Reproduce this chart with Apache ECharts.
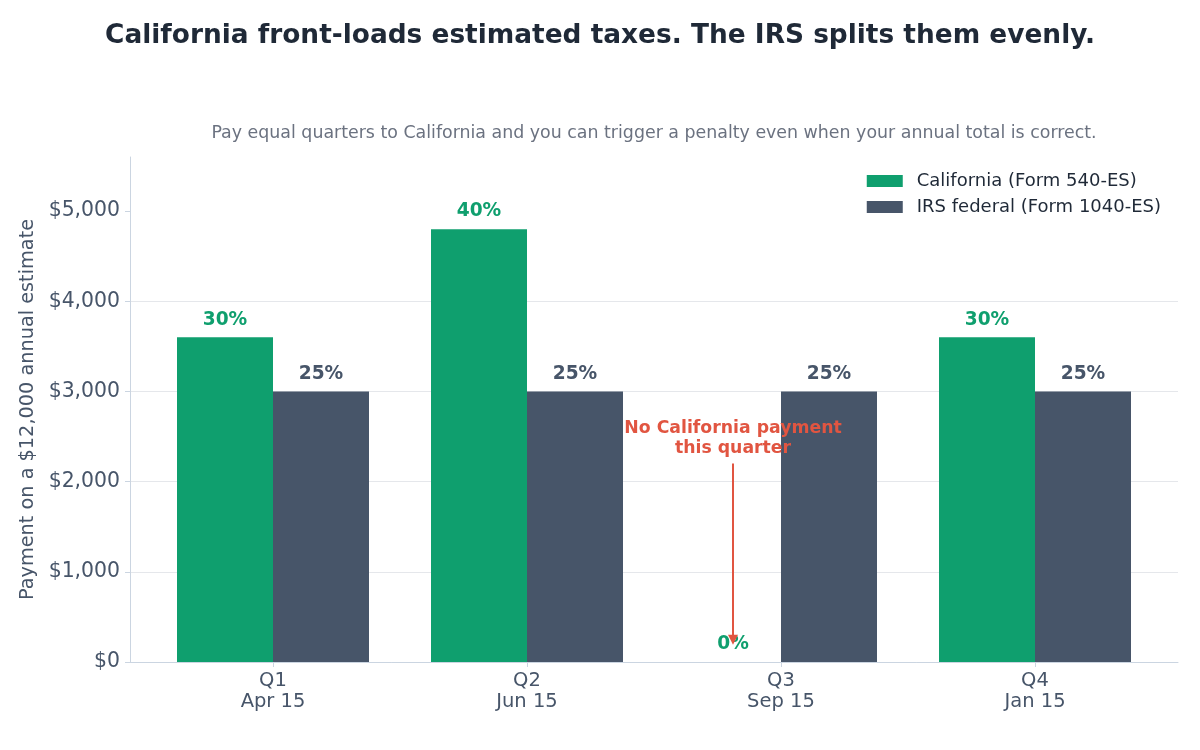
<!DOCTYPE html>
<html>
<head>
<meta charset="utf-8">
<script src="https://cdn.jsdelivr.net/npm/echarts@6/dist/echarts.min.js"></script>
<style>
  html, body { margin: 0; padding: 0; background: #fff; }
  #chart { width: 1200px; height: 750px; }
</style>
</head>
<body>
<div id="chart"></div>
<script>
  // quarters and due dates
  var quarters = ['Q1', 'Q2', 'Q3', 'Q4'];
  var dueDates = ['Apr 15', 'Jun 15', 'Sep 15', 'Jan 15'];

  // payment on a $12,000 annual estimate
  var caPayments = [3600, 4800, 0, 3600];
  var irsPayments = [3000, 3000, 3000, 3000];
  var caPct = ['30%', '40%', '0%', '30%'];
  var irsPct = ['25%', '25%', '25%', '25%'];

  // annotation: [category, text value, arrow start, arrow end]
  var annoText = 'No California payment\nthis quarter';
  var annoPoint = ['Q3', 2480, 2200, 190];

  var yTicks = [0, 1000, 2000, 3000, 4000, 5000];

  var GREEN = '#0f9f6e';
  var SLATE = '#475569';
  var RED = '#e15541';
  var FONT = '"DejaVu Sans", sans-serif';
  var BAR_W = 96;

  var chart = echarts.init(document.getElementById('chart'));

  var yBase = {
    type: 'value',
    min: 0,
    max: 5600,
    interval: 1000
  };

  var option = {
    backgroundColor: '#ffffff',
    textStyle: { fontFamily: FONT },
    title: [
      {
        text: 'California front-loads estimated taxes. The IRS splits them evenly.',
        left: 'center',
        top: 18,
        textStyle: { fontSize: 26.4, fontWeight: 'bold', color: '#1f2937', fontFamily: FONT }
      },
      {
        text: 'Pay equal quarters to California and you can trigger a penalty even when your annual total is correct.',
        left: 649,
        textAlign: 'center',
        top: 120,
        textStyle: { fontSize: 17.4, fontWeight: 'normal', color: '#6b7280', fontFamily: FONT }
      }
    ],
    legend: {
      data: ['California (Form 540-ES)', 'IRS federal (Form 1040-ES)'],
      orient: 'vertical',
      right: 39,
      top: 172,
      padding: 0,
      icon: 'rect',
      itemWidth: 36,
      itemHeight: 12,
      itemGap: 8,
      textStyle: { fontSize: 18, color: '#1f2937', fontFamily: FONT, padding: [0, 0, 0, 9] }
    },
    grid: [
      { left: 130, right: 22, top: 157, bottom: 88 },
      { left: 146, right: 38, top: 157, bottom: 88 }
    ],
    xAxis: [
      {
        gridIndex: 0,
        type: 'value',
        min: 0,
        max: 1,
        axisLine: { show: true, lineStyle: { color: '#cbd5e1' } },
        axisTick: { show: false },
        axisLabel: { show: false },
        splitLine: { show: false }
      },
      {
        gridIndex: 1,
        type: 'category',
        data: quarters,
        axisLine: { show: false },
        axisTick: { show: true, alignWithLabel: true, length: 5, lineStyle: { color: '#cbd5e1' } },
        axisLabel: {
          fontSize: 19.5,
          color: SLATE,
          lineHeight: 21,
          margin: 8,
          fontFamily: FONT,
          formatter: function (v, i) { return v + '\n' + dueDates[i]; }
        }
      }
    ],
    yAxis: [
      Object.assign({}, yBase, {
        gridIndex: 0,
        name: 'Payment on a $12,000 annual estimate',
        nameLocation: 'middle',
        nameGap: 84,
        nameTextStyle: { fontSize: 19.3, color: SLATE, fontFamily: FONT },
        axisLine: { show: true, lineStyle: { color: '#cbd5e1' } },
        axisTick: { show: true, length: 5, lineStyle: { color: '#cbd5e1' }, customValues: yTicks },
        axisLabel: {
          fontSize: 20.4,
          color: SLATE,
          margin: 10,
          fontFamily: FONT,
          customValues: yTicks,
          formatter: function (v) { return '$' + v.toLocaleString('en-US'); }
        },
        splitLine: { show: true, showMaxLine: false, lineStyle: { color: '#e5e7eb' } }
      }),
      Object.assign({}, yBase, {
        gridIndex: 1,
        show: false,
        splitLine: { show: false }
      })
    ],
    series: [
      {
        name: 'California (Form 540-ES)',
        type: 'bar',
        xAxisIndex: 1,
        yAxisIndex: 1,
        data: caPayments,
        barWidth: BAR_W,
        barGap: '0%',
        itemStyle: { color: GREEN },
        label: {
          show: true,
          position: 'top',
          distance: 8,
          fontSize: 18.6,
          fontWeight: 'bold',
          fontFamily: FONT,
          color: GREEN,
          formatter: function (p) { return caPct[p.dataIndex]; }
        }
      },
      {
        name: 'IRS federal (Form 1040-ES)',
        type: 'bar',
        xAxisIndex: 1,
        yAxisIndex: 1,
        data: irsPayments,
        barWidth: BAR_W,
        barGap: '0%',
        itemStyle: { color: SLATE },
        label: {
          show: true,
          position: 'top',
          distance: 8,
          fontSize: 18.6,
          fontWeight: 'bold',
          fontFamily: FONT,
          color: SLATE,
          formatter: function (p) { return irsPct[p.dataIndex]; }
        }
      },
      {
        name: 'annotation',
        type: 'custom',
        xAxisIndex: 1,
        yAxisIndex: 1,
        silent: true,
        z: 10,
        data: [annoPoint],
        renderItem: function (params, api) {
          var cat = api.value(0);
          var pText = api.coord([cat, api.value(1)]);
          var pStart = api.coord([cat, api.value(2)]);
          var pEnd = api.coord([cat, api.value(3)]);
          // arrow points at the (empty) California bar slot
          var x = pText[0] - BAR_W / 2;
          return {
            type: 'group',
            children: [
              {
                type: 'line',
                shape: { x1: x, y1: pStart[1], x2: x, y2: pEnd[1] - 6 },
                style: { stroke: RED, lineWidth: 2 }
              },
              {
                type: 'polygon',
                shape: { points: [[x - 5, pEnd[1] - 10], [x + 5, pEnd[1] - 10], [x, pEnd[1]]] },
                style: { fill: RED }
              },
              {
                type: 'text',
                style: {
                  text: annoText,
                  x: x,
                  y: pText[1],
                  align: 'center',
                  verticalAlign: 'middle',
                  fontSize: 17.3,
                  fontWeight: 'bold',
                  fontFamily: FONT,
                  lineHeight: 20,
                  fill: RED
                }
              }
            ]
          };
        }
      }
    ]
  };

  chart.setOption(option);
</script>
</body>
</html>
